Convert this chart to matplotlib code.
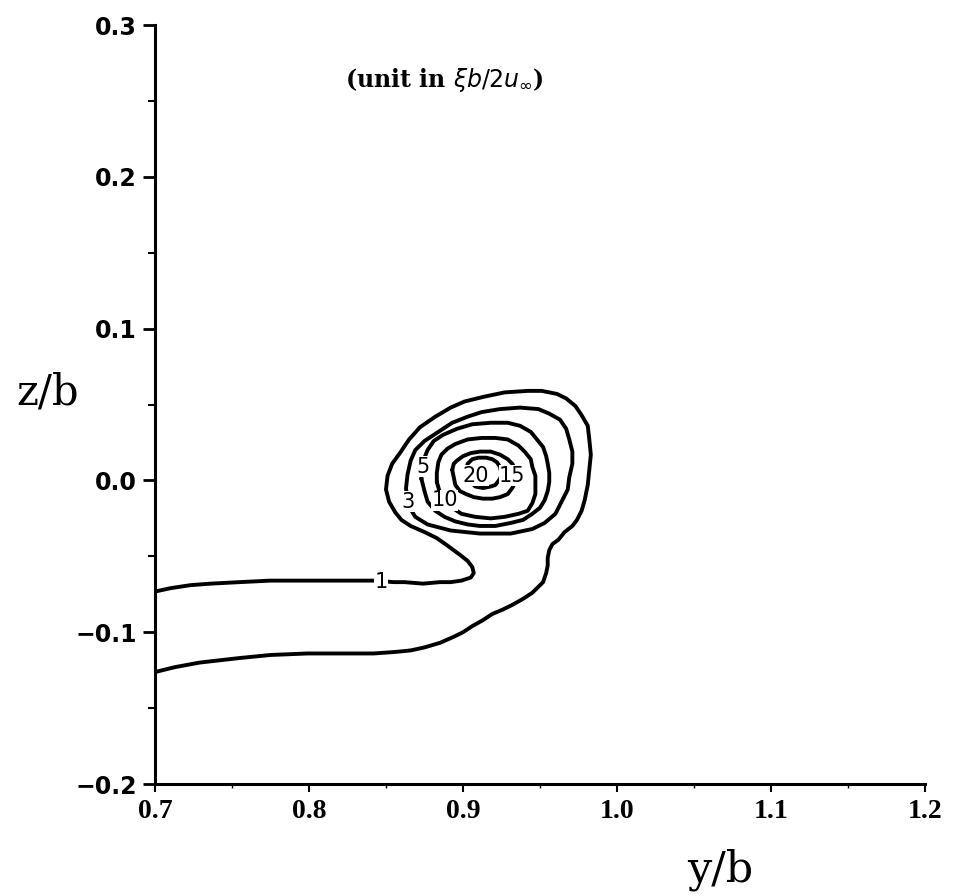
import matplotlib
matplotlib.use("Agg")
import matplotlib.pyplot as plt
from matplotlib.ticker import MultipleLocator, FuncFormatter

# contour lines, coordinates are (y/b, z/b)
# level 1: open curve, lower branch -> around the vortex -> upper branch
c1_y = [0.701, 0.713, 0.729, 0.755, 0.775, 0.799, 0.820, 0.842, 0.856, 0.866,
        0.875, 0.885, 0.894, 0.900, 0.906, 0.913, 0.919, 0.926, 0.932, 0.939,
        0.945, 0.949, 0.952, 0.954, 0.955, 0.955, 0.956, 0.958, 0.962, 0.966,
        0.971, 0.974, 0.977, 0.979, 0.981, 0.982, 0.983, 0.982, 0.981, 0.977,
        0.973, 0.967, 0.961, 0.951, 0.942, 0.927, 0.913, 0.901, 0.892, 0.882,
        0.872, 0.865, 0.859, 0.854, 0.851, 0.850, 0.852, 0.856, 0.860, 0.866,
        0.875, 0.883, 0.890, 0.898, 0.903, 0.906, 0.907, 0.905, 0.899, 0.892,
        0.885, 0.874, 0.862, 0.855, 0.842, 0.820, 0.799, 0.775, 0.755, 0.736,
        0.723, 0.710, 0.701]
c1_z = [-0.126, -0.123, -0.120, -0.117, -0.115, -0.114, -0.114, -0.114, -0.113, -0.112,
        -0.110, -0.107, -0.103, -0.100, -0.096, -0.092, -0.088, -0.085, -0.082, -0.078,
        -0.074, -0.070, -0.067, -0.061, -0.056, -0.051, -0.046, -0.042, -0.039, -0.034,
        -0.030, -0.026, -0.020, -0.013, -0.003, 0.007, 0.017, 0.027, 0.036, 0.043,
        0.049, 0.054, 0.057, 0.059, 0.059, 0.058, 0.055, 0.052, 0.048, 0.042,
        0.035, 0.027, 0.018, 0.011, 0.003, -0.006, -0.014, -0.021, -0.026, -0.030,
        -0.034, -0.038, -0.043, -0.049, -0.053, -0.057, -0.061, -0.064, -0.066, -0.067,
        -0.067, -0.068, -0.067, -0.067, -0.066, -0.066, -0.066, -0.066, -0.067, -0.068,
        -0.069, -0.071, -0.073]

# closed levels
c3_y = [0.864, 0.866, 0.869, 0.877, 0.892, 0.911, 0.931, 0.945, 0.953, 0.960,
        0.964, 0.968, 0.969, 0.971, 0.971, 0.969, 0.967, 0.963, 0.956, 0.949,
        0.937, 0.924, 0.912, 0.903, 0.893, 0.884, 0.875, 0.869, 0.866, 0.864,
        0.863]
c3_z = [-0.014, -0.019, -0.024, -0.029, -0.033, -0.035, -0.035, -0.032, -0.028, -0.022,
        -0.014, -0.006, 0.002, 0.011, 0.019, 0.027, 0.034, 0.040, 0.044, 0.047,
        0.048, 0.047, 0.045, 0.042, 0.038, 0.032, 0.026, 0.020, 0.013, 0.004,
        -0.005]

c5_y = [0.873, 0.875, 0.877, 0.882, 0.888, 0.895, 0.903, 0.911, 0.921, 0.931,
        0.939, 0.945, 0.950, 0.953, 0.955, 0.956, 0.956, 0.955, 0.954, 0.952,
        0.948, 0.944, 0.937, 0.929, 0.918, 0.906, 0.896, 0.887, 0.881, 0.877,
        0.875, 0.873]
c5_z = [0.001, -0.007, -0.014, -0.020, -0.024, -0.027, -0.029, -0.030, -0.030, -0.028,
        -0.026, -0.022, -0.018, -0.013, -0.007, -0.001, 0.005, 0.011, 0.016, 0.022,
        0.027, 0.032, 0.036, 0.038, 0.038, 0.037, 0.034, 0.030, 0.026, 0.020,
        0.015, 0.009]

c10_y = [0.883, 0.885, 0.888, 0.893, 0.899, 0.908, 0.918, 0.927, 0.936, 0.942,
         0.945, 0.947, 0.947, 0.947, 0.945, 0.944, 0.940, 0.936, 0.929, 0.921,
         0.912, 0.903, 0.895, 0.890, 0.886, 0.884, 0.883]
c10_z = [-0.001, -0.008, -0.013, -0.018, -0.022, -0.024, -0.025, -0.024, -0.022, -0.020,
         -0.015, -0.009, -0.003, 0.003, 0.009, 0.014, 0.019, 0.023, 0.027, 0.028,
         0.028, 0.027, 0.024, 0.021, 0.017, 0.012, 0.005]

c15_y = [0.893, 0.894, 0.895, 0.898, 0.902, 0.907, 0.913, 0.919, 0.924, 0.929,
         0.932, 0.934, 0.934, 0.934, 0.932, 0.929, 0.924, 0.918, 0.911, 0.905,
         0.900, 0.896, 0.894]
c15_z = [0.007, 0.002, -0.003, -0.007, -0.009, -0.011, -0.012, -0.012, -0.011, -0.009,
         -0.005, -0.001, 0.003, 0.007, 0.011, 0.014, 0.017, 0.019, 0.019, 0.018,
         0.016, 0.013, 0.011]

c20_y = [0.902, 0.903, 0.905, 0.908, 0.913, 0.918, 0.921, 0.924, 0.925, 0.924,
         0.922, 0.919, 0.915, 0.910, 0.906, 0.903]
c20_z = [0.007, 0.003, -0.001, -0.004, -0.005, -0.004, -0.003, 0.001, 0.004, 0.009,
         0.012, 0.014, 0.015, 0.015, 0.014, 0.011]

level_text = ["1", "3", "5", "10", "20", "15"]
label_y = [0.847, 0.864, 0.874, 0.888, 0.908, 0.932]
label_z = [-0.067, -0.014, 0.009, -0.013, 0.003, 0.003]


def minus_fmt(v, pos):
    return f"{v:.1f}".replace("-0.0", "0.0").replace("-", "\u2212")


fig = plt.figure(figsize=(9.59, 8.96), dpi=100)
ax = fig.add_axes([0.1616, 0.125, 0.803, 0.847])

lw = 2.8
ax.plot(c1_y, c1_z, color='black', linewidth=lw, solid_joinstyle='round', solid_capstyle='round')
for cy, cz in [(c3_y, c3_z), (c5_y, c5_z), (c10_y, c10_z), (c15_y, c15_z), (c20_y, c20_z)]:
    ax.plot(cy + cy[:1], cz + cz[:1], color='black', linewidth=lw,
            solid_joinstyle='round', solid_capstyle='round')

for s, x, z in zip(level_text, label_y, label_z):
    ax.text(x, z, s, ha='center', va='center', fontsize=15, family='DejaVu Sans',
            bbox=dict(facecolor='white', edgecolor='none', pad=0.3))

ax.text(0.888, 0.264, r"(unit in $\xi b/2u_\infty$)", ha='center', va='center',
        fontsize=17, family='DejaVu Serif', fontweight='bold')

ax.set_xlim(0.7, 1.2)
ax.set_ylim(-0.2, 0.3)

ax.spines['top'].set_visible(False)
ax.spines['right'].set_visible(False)
ax.spines['left'].set_linewidth(2.2)
ax.spines['bottom'].set_linewidth(2.2)

ax.xaxis.set_major_locator(MultipleLocator(0.1))
ax.xaxis.set_minor_locator(MultipleLocator(0.05))
ax.yaxis.set_major_locator(MultipleLocator(0.1))
ax.yaxis.set_minor_locator(MultipleLocator(0.05))
ax.xaxis.set_major_formatter(FuncFormatter(minus_fmt))
ax.yaxis.set_major_formatter(FuncFormatter(minus_fmt))

ax.tick_params(axis='y', which='major', direction='out', length=9, width=2, pad=4,
               labelsize=17)
ax.tick_params(axis='y', which='minor', direction='out', length=5, width=1.5)
ax.tick_params(axis='x', which='major', direction='out', length=6, width=1.5, pad=5,
               labelsize=20)
ax.tick_params(axis='x', which='minor', direction='out', length=3, width=1)
for lab in ax.get_yticklabels():
    lab.set_fontweight('bold')
for lab in ax.get_xticklabels():
    lab.set_fontweight('bold')
    lab.set_family('Liberation Serif')

ax.set_xlabel("y/b", fontsize=31, family='DejaVu Serif', ha='center', va='center')
ax.xaxis.set_label_coords(0.734, -0.113)
ax.set_ylabel("z/b", fontsize=30, family='DejaVu Serif', rotation=0, ha='center', va='center')
ax.yaxis.set_label_coords(-0.140, 0.516)

fig.savefig("out.png", dpi=100)
